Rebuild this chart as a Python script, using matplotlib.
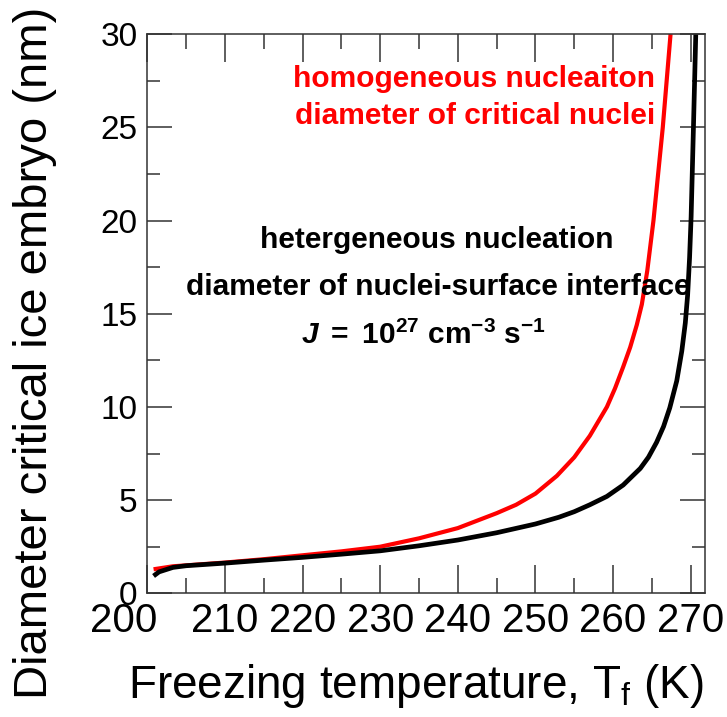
import matplotlib
matplotlib.use("Agg")
import matplotlib.pyplot as plt
from matplotlib.ticker import MultipleLocator, FixedLocator
from matplotlib.transforms import ScaledTranslation

plt.rcParams['font.family'] = ['Liberation Sans', 'DejaVu Sans']
plt.rcParams['mathtext.fontset'] = 'custom'
plt.rcParams['mathtext.rm'] = 'Liberation Sans'
plt.rcParams['mathtext.it'] = 'Liberation Sans:italic'
plt.rcParams['mathtext.bf'] = 'Liberation Sans:bold'
plt.rcParams['mathtext.bfit'] = 'Liberation Sans:italic:bold'

# Homogeneous nucleation: diameter of critical nuclei
T_homo = [200.8, 203.3, 205, 210, 215, 220, 225, 230, 235, 240, 245, 247.5, 250,
          252.75, 255, 257, 259.2, 260.25, 261.3, 262.2, 263.05, 263.7, 264.4,
          265.2, 265.8, 266.4, 267.4]
D_homo = [1.29, 1.45, 1.5, 1.65, 1.83, 2.04, 2.25, 2.5, 2.95, 3.5, 4.3, 4.75, 5.35,
          6.3, 7.3, 8.45, 10.0, 11.0, 12.15, 13.2, 14.4, 15.5, 17.3,
          20.0, 22.5, 25.0, 30.0]

# Heterogeneous nucleation: diameter of nuclei-surface interface
T_het = [200.8, 201.5, 203.3, 205, 210, 215, 220, 225, 230, 235, 240, 245, 250,
         253, 255, 257, 259.2, 261.3, 263.5, 264.55, 265.6, 266.5, 267.3, 268.2,
         268.85, 269.3, 269.6, 269.85, 270.05, 270.35, 270.65]
D_het = [0.93, 1.15, 1.39, 1.48, 1.62, 1.78, 1.93, 2.1, 2.28, 2.55, 2.86, 3.25, 3.72,
         4.08, 4.38, 4.75, 5.2, 5.81, 6.7, 7.3, 8.1, 8.95, 9.95, 11.4,
         13.0, 14.5, 16.0, 18.0, 20.2, 25.0, 30.0]

x_ticks = [200, 210, 220, 230, 240, 250, 260, 270]
x_ticklabels = ['200', '210', '220', '230', '240', '250', '260', '270']
y_ticks = [0, 5, 10, 15, 20, 25, 30]
y_ticklabels = ['0', '5', '10', '15', '20', '25', '30']

fig = plt.figure(figsize=(7.27, 7.17), dpi=100)
ax = fig.add_axes([0.2027, 0.1725, 0.7677, 0.7799])

ax.plot(T_homo, D_homo, color='#ff0000', lw=3.0, solid_joinstyle='round',
        solid_capstyle='butt')
ax.plot(T_het, D_het, color='black', lw=3.4, solid_joinstyle='round',
        solid_capstyle='butt')

ax.set_xlim(200, 271.9)
ax.set_ylim(0, 30)

ax.xaxis.set_major_locator(FixedLocator(x_ticks))
ax.set_xticklabels(x_ticklabels)
ax.xaxis.set_minor_locator(MultipleLocator(5))
ax.yaxis.set_major_locator(FixedLocator(y_ticks))
ax.set_yticklabels(y_ticklabels)
ax.yaxis.set_minor_locator(MultipleLocator(2.5))

for s in ax.spines.values():
    s.set_linewidth(1.1)
    s.set_color('#333333')

ax.tick_params(which='both', direction='in', top=True, right=True, color='#333333', width=1.1)
ax.tick_params(axis='x', which='major', length=20, pad=6, labelsize=29)
ax.tick_params(axis='x', which='minor', length=10.5)
ax.tick_params(axis='y', which='major', length=18, pad=7, labelsize=24)
ax.tick_params(axis='y', which='minor', length=9.5)

# first x label sits further left in the reference
lab0 = ax.get_xticklabels()[0]
lab0.set_transform(lab0.get_transform() + ScaledTranslation(-0.24, 0, fig.dpi_scale_trans))

ax.set_xlabel(r'Freezing temperature, T$_\mathregular{f}$ (K)', fontsize=33)
ax.xaxis.set_label_coords(0.481, -0.166)
ax.xaxis.label.set_va('center')
ax.set_ylabel('Diameter critical ice embryo (nm)', fontsize=34)
ax.yaxis.set_label_coords(-0.2014, 0.43)
ax.yaxis.label.set_va('center')

ax.text(265.4, 27.15, 'homogeneous nucleaiton', color='#ff0000', fontsize=21.5,
        fontweight='bold', ha='right', va='baseline')
ax.text(265.4, 25.2, 'diameter of critical nuclei', color='#ff0000', fontsize=21.5,
        fontweight='bold', ha='right', va='baseline')
ax.text(237.3, 18.5, 'hetergeneous nucleation', color='black', fontsize=21.5,
        fontweight='bold', ha='center', va='baseline')
ax.text(237.45, 16.0, 'diameter of nuclei-surface interface', color='black', fontsize=21.5,
        fontweight='bold', ha='center', va='baseline')
ax.text(235.6, 13.4, r'$\mathbfit{J}\mathbf{\ =\ 10^{27}\ cm^{-3}\ s^{-1}}$', color='black',
        fontsize=21.5, ha='center', va='baseline')

fig.savefig('out.png', dpi=100)
